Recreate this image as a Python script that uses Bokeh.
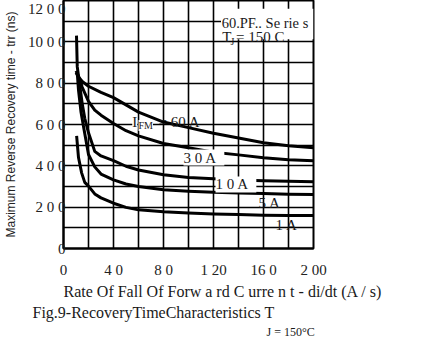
from bokeh.plotting import figure
from bokeh.models import Range1d, FixedTicker, Label, BoxAnnotation, Title
from bokeh.embed import file_html
from bokeh.resources import INLINE

# ---- data ----
x_ticks = [0, 40, 80, 120, 160, 200]
x_tick_labels = ["0", "4 0", "8 0", "1 20", "16 0", "2 00"]
y_ticks = [0, 200, 400, 600, 800, 1000, 1200]
y_tick_labels = ["0", "2 0 0", "4 0 0", "6 0 0", "8 0 0", "10 0 0", "12 0 0"]
grid_x = [0, 20, 40, 60, 80, 100, 120, 140, 160, 180, 200]
grid_y = [0, 100, 200, 300, 400, 500, 600, 700, 800, 900, 1000, 1100, 1200]

didt_60 = [10, 12, 15, 20, 30, 40, 50, 60, 80, 100, 120, 140, 160, 180, 200]
trr_60 = [850, 830, 808, 785, 755, 730, 695, 660, 612, 585, 558, 535, 512, 497, 487]

didt_30 = [10, 12, 15, 20, 25, 30, 40, 50, 60, 80, 100, 120, 140, 160, 180, 200]
trr_30 = [860, 834, 780, 712, 670, 645, 605, 570, 545, 508, 488, 466, 453, 439, 429, 424]

didt_10 = [10.4, 11, 13, 15, 17, 20, 25, 30, 40, 50, 60, 80, 100, 120, 140, 160, 180, 200]
trr_10 = [1030, 880, 790, 700, 630, 560, 470, 448, 425, 398, 380, 357, 344, 337, 332, 328, 325, 323]

didt_5 = [11, 12, 14, 16, 20, 25, 30, 40, 50, 60, 80, 100, 120, 140, 160, 180, 200]
trr_5 = [850, 766, 660, 590, 455, 395, 360, 332, 312, 300, 284, 277, 272, 268, 266, 263, 261]

didt_1 = [10.5, 12, 14.5, 17, 20, 25, 30, 40, 50, 60, 80, 100, 120, 140, 160, 180, 200]
trr_1 = [545, 440, 366, 320, 302, 264, 245, 219, 199, 187, 178, 172, 167, 164, 161, 160, 160]

x_title = "Rate Of Fall Of Forw a rd C urre n t - di/dt (A / s)"
y_title = "Maximum Reverse Recovery time - trr (ns)"
caption_main = "Fig.9-RecoveryTimeCharacteristics T"
caption_sub = "J = 150°C"

SERIF = "Liberation Serif"
INK = "#1a1a1a"

p = figure(frame_width=250, frame_height=248, x_range=Range1d(0, 200), y_range=Range1d(0, 1200),
           output_backend="svg", toolbar_location=None,
           min_border_left=60, min_border_right=99, min_border_top=0, min_border_bottom=0)
p.background_fill_color = "white"
p.border_fill_color = "white"
p.outline_line_color = "black"
p.outline_line_width = 2
p.outline_line_alpha = 1

# grid
p.xgrid.ticker = FixedTicker(ticks=grid_x)
p.ygrid.ticker = FixedTicker(ticks=grid_y)
for g in (p.xgrid, p.ygrid):
    g.grid_line_color = "black"
    g.grid_line_width = 1.6
    g.grid_line_alpha = 1

# axes
p.xaxis.ticker = FixedTicker(ticks=x_ticks)
p.xaxis.major_label_overrides = {t: l for t, l in zip(x_ticks, x_tick_labels)}
p.yaxis.ticker = FixedTicker(ticks=y_ticks)
p.yaxis.major_label_overrides = {t: l for t, l in zip(y_ticks, y_tick_labels)}
for ax in (p.xaxis, p.yaxis):
    ax.major_tick_line_color = None
    ax.minor_tick_line_color = None
    ax.axis_line_color = "black"
    ax.axis_line_width = 2
    ax.major_label_text_font = SERIF
    ax.major_label_text_font_size = "15px"
    ax.major_label_text_color = "#222222"
p.xaxis.major_label_standoff = 7
p.yaxis.major_label_standoff = -8
p.yaxis.axis_label = y_title
p.yaxis.axis_label_text_font = "Liberation Sans"
p.yaxis.axis_label_text_font_style = "normal"
p.yaxis.axis_label_text_font_size = "12px"
p.yaxis.axis_label_text_color = "#222222"
p.yaxis.axis_label_standoff = 7

# curves
for xs, ys in ((didt_60, trr_60), (didt_30, trr_30), (didt_10, trr_10),
               (didt_5, trr_5), (didt_1, trr_1)):
    p.line(xs, ys, line_width=3, line_color="black", line_join="round")

# white box behind the series note
p.add_layout(BoxAnnotation(left=126, right=200, bottom=1012, top=1160,
                           fill_color="white", fill_alpha=1, line_color=None))


def lab(x, y, text, size="14px", bg=None):
    kw = dict(x=x, y=y, text=text, text_font=SERIF, text_font_size=size,
              text_color=INK, text_baseline="alphabetic", text_align="left")
    if bg:
        kw.update(background_fill_color=bg, background_fill_alpha=1)
    p.add_layout(Label(**kw))


# series note
lab(126.5, 1093, "60.PF.. Se rie s", size="14.5px")
lab(127, 1021, "T", size="15px")
lab(133.5, 1002, "J", size="10px")
lab(138, 1021, "=  150  C", size="15px")

# curve labels
lab(55, 614, "I", size="15px", bg="white")
lab(60, 595, "FM", size="10px", bg="white")
lab(76, 610, "=  60   A", size="15px")
lab(96, 440, "3 0   A", size="15px", bg="white")
lab(121.6, 310, "1 0   A", size="15px", bg="white")
lab(156, 222, "5   A", size="15px")
lab(169.6, 116, "1   A", size="15px")

# x title and figure caption as titles below the axis
def below(text, size, offset, standoff):
    t = Title(text=text, align="left", offset=offset, standoff=standoff,
              text_font=SERIF, text_font_size=size, text_font_style="normal",
              text_color=INK)
    p.add_layout(t, "below")

below(x_title, "16px", 0, 1)
below(caption_main, "16px", -31, 3)
below(caption_sub, "12px", 203, 0)

open("out.html", "w").write(file_html(p, INLINE))
